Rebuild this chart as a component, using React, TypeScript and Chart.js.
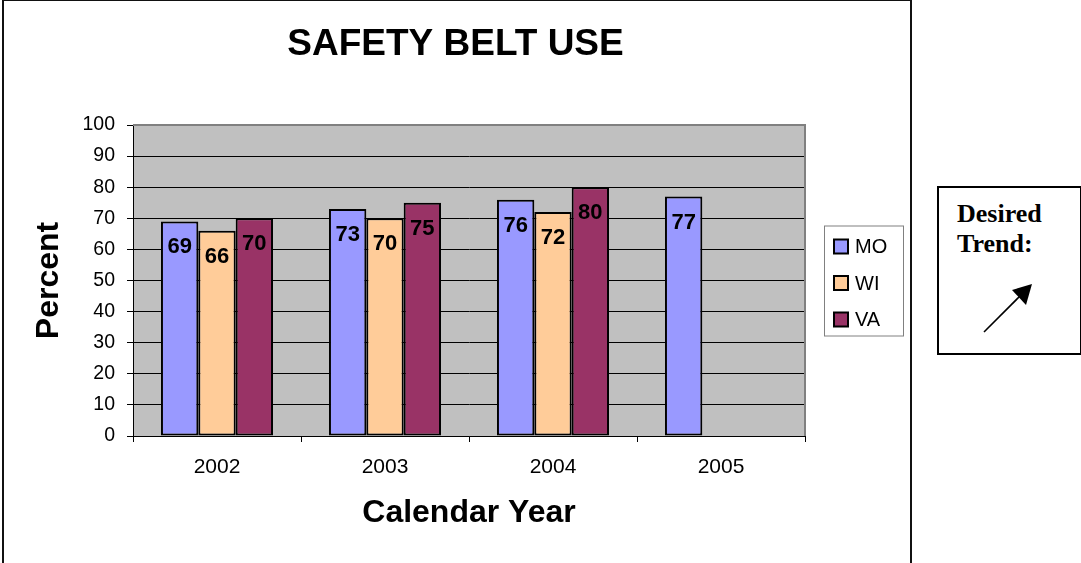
import React, { useEffect, useRef } from 'react';
import { Chart, registerables } from 'chart.js';

Chart.register(...registerables);

// ---- data ----
const chartTitle = 'SAFETY BELT USE';
const xAxisTitle = 'Calendar Year';
const yAxisTitle = 'Percent';
const categories = ['2002', '2003', '2004', '2005'];
const seriesNames = ['MO', 'WI', 'VA'];
const moValues: (number | null)[] = [69, 73, 76, 77];
const wiValues: (number | null)[] = [66, 70, 72, null];
const vaValues: (number | null)[] = [70, 75, 80, null];
const seriesColors = ['#9999FF', '#FFCC99', '#993366'];
const yMin = 0;
const yMax = 100;
const yStep = 10;
const trendLines = ['Desired', 'Trend:'];

const FONT = '"Liberation Sans", Arial, sans-serif';

const plotBgPlugin = {
  id: 'plotBg',
  beforeDraw(chart: any) {
    const { ctx, chartArea: a } = chart;
    ctx.save();
    ctx.fillStyle = '#C0C0C0';
    ctx.fillRect(a.left, a.top, a.right - a.left, a.bottom - a.top);
    ctx.restore();
  },
  afterDatasetsDraw(chart: any) {
    const { ctx, chartArea: a } = chart;
    ctx.save();
    ctx.strokeStyle = '#808080';
    ctx.lineWidth = 2;
    ctx.beginPath();
    ctx.moveTo(a.left, a.top);
    ctx.lineTo(a.right, a.top);
    ctx.lineTo(a.right, a.bottom);
    ctx.stroke();
    ctx.restore();
  },
};

const dataLabelPlugin = {
  id: 'dataLabels',
  afterDatasetsDraw(chart: any) {
    const { ctx } = chart;
    ctx.save();
    ctx.font = `bold 22px ${FONT}`;
    ctx.fillStyle = '#000';
    ctx.textAlign = 'center';
    ctx.textBaseline = 'middle';
    chart.data.datasets.forEach((ds: any, i: number) => {
      const meta = chart.getDatasetMeta(i);
      meta.data.forEach((bar: any, j: number) => {
        const v = ds.data[j];
        if (v == null) return;
        ctx.fillText(String(v), bar.x, bar.y + 26);
      });
    });
    ctx.restore();
  },
};

const boxLegendPlugin = {
  id: 'boxLegend',
  afterDraw(chart: any) {
    const { ctx, chartArea: a } = chart;
    const left = a.right + 19;
    const w = 79;
    const h = 110;
    const top = (a.top + a.bottom) / 2 - h / 2;
    ctx.save();
    ctx.fillStyle = '#fff';
    ctx.fillRect(left, top, w, h);
    ctx.strokeStyle = '#808080';
    ctx.lineWidth = 1;
    ctx.strokeRect(left + 0.5, top + 0.5, w, h);
    const rowGap = 36.5;
    const firstRow = top + 21;
    chart.data.datasets.forEach((ds: any, i: number) => {
      const cy = firstRow + i * rowGap;
      const sw = 14;
      const sx = left + 10;
      ctx.fillStyle = ds.backgroundColor;
      ctx.fillRect(sx, cy - sw / 2, sw, sw);
      ctx.strokeStyle = '#000';
      ctx.lineWidth = 2;
      ctx.strokeRect(sx, cy - sw / 2, sw, sw);
      ctx.fillStyle = '#000';
      ctx.font = `20px ${FONT}`;
      ctx.textAlign = 'left';
      ctx.textBaseline = 'middle';
      ctx.fillText(ds.label, left + 31, cy + 1);
    });
    ctx.restore();
  },
};

export default function App() {
  const canvasRef = useRef<HTMLCanvasElement | null>(null);

  useEffect(() => {
    if (!canvasRef.current) return;
    const valueSets = [moValues, wiValues, vaValues];
    const chart = new Chart(canvasRef.current, {
      type: 'bar',
      data: {
        labels: categories,
        datasets: seriesNames.map((name, i) => ({
          label: name,
          data: valueSets[i],
          backgroundColor: seriesColors[i],
          borderColor: '#000',
          borderWidth: 2,
          borderSkipped: false,
          categoryPercentage: 0.667,
          barPercentage: 1,
          yAxisID: 'y',
        })),
      },
      options: {
        animation: false,
        responsive: false,
        devicePixelRatio: 1,
        layout: { padding: 0 },
        plugins: {
          legend: { display: false },
          tooltip: { enabled: false },
          title: {
            display: true,
            text: chartTitle,
            color: '#000',
            font: { family: FONT, size: 37, weight: 'bold', lineHeight: 1.2 },
            padding: { top: 23, bottom: 57.6 },
          },
        },
        scales: {
          x: {
            offset: true,
            grid: {
              display: true,
              offset: true,
              drawOnChartArea: false,
              drawTicks: true,
              tickLength: 6,
              color: '#000',
              tickColor: '#000',
            },
            border: { display: true, color: '#000', width: 1 },
            ticks: {
              color: '#000',
              font: { family: FONT, size: 21 },
              padding: 13,
              maxRotation: 0,
            },
            title: {
              display: true,
              text: xAxisTitle,
              color: '#000',
              font: { family: FONT, size: 32, weight: 'bold', lineHeight: 1.2 },
              padding: { top: 0, bottom: 31 },
            },
            afterFit: (scale: any) => {
              scale.height = 127;
            },
          },
          y: {
            position: 'left',
            min: yMin,
            max: yMax,
            grid: {
              display: true,
              drawOnChartArea: true,
              drawTicks: true,
              tickLength: 6,
              color: '#000',
              tickColor: '#000',
              lineWidth: 1,
            },
            border: { display: true, color: '#000', width: 1 },
            ticks: {
              stepSize: yStep,
              color: '#000',
              font: { family: FONT, size: 19.5 },
              padding: 12,
            },
            title: {
              display: true,
              text: yAxisTitle,
              color: '#000',
              font: { family: FONT, size: 32, weight: 'bold', lineHeight: 1.2 },
              padding: { top: 30, bottom: 0 },
            },
            afterFit: (scale: any) => {
              scale.width = 133;
            },
          },
          yRight: {
            position: 'right',
            min: yMin,
            max: yMax,
            grid: { display: false },
            border: { display: false },
            ticks: { display: false },
            afterFit: (scale: any) => {
              scale.width = 106;
            },
          },
        },
      } as any,
      plugins: [plotBgPlugin, dataLabelPlugin, boxLegendPlugin],
    });
    return () => chart.destroy();
  }, []);

  return (
    <div
      style={{
        position: 'fixed',
        left: 0,
        top: 0,
        width: 1081,
        height: 563,
        overflow: 'hidden',
        background: '#fff',
      }}
    >
      <canvas
        ref={canvasRef}
        width={911}
        height={563}
        style={{ position: 'absolute', left: 0, top: 0, width: 911, height: 563 }}
      />
      <div
        style={{
          position: 'absolute',
          left: 2,
          top: -1,
          width: 910,
          height: 620,
          border: '2px solid #111',
          boxSizing: 'border-box',
          pointerEvents: 'none',
        }}
      />
      <div
        style={{
          position: 'absolute',
          left: 937,
          top: 186,
          width: 145,
          height: 169,
          border: '2px solid #000',
          boxSizing: 'border-box',
          background: '#fff',
        }}
      >
        {trendLines.map((t, i) => (
          <div
            key={t}
            style={{
              position: 'absolute',
              left: 18,
              top: 11 + i * 30,
              fontFamily: '"Liberation Serif", "Times New Roman", serif',
              fontWeight: 'bold',
              fontSize: 26,
              lineHeight: '30px',
              whiteSpace: 'nowrap',
              color: '#000',
            }}
          >
            {t}
          </div>
        ))}
        <svg
          width={145}
          height={169}
          style={{ position: 'absolute', left: -2, top: -2 }}
        >
          <line x1={47} y1={146} x2={83} y2={110} stroke="#000" strokeWidth={1.6} />
          <polygon points="95,98 75,104 89,119" fill="#000" />
        </svg>
      </div>
    </div>
  );
}
